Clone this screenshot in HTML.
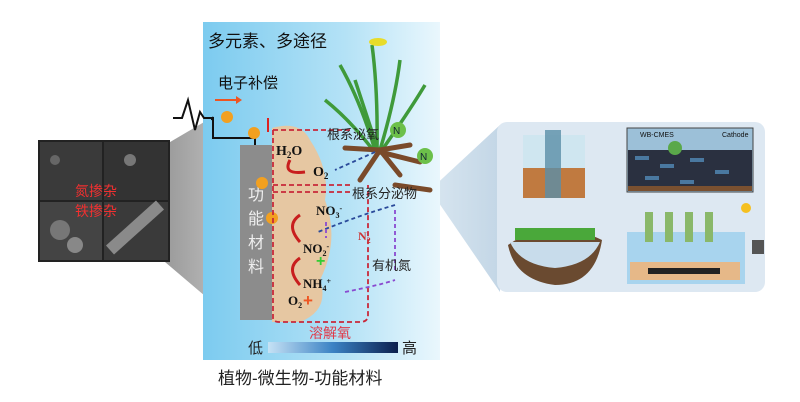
<!DOCTYPE html>
<html><head><meta charset="utf-8"><style>
html,body{margin:0;padding:0;background:#fff;}
svg{display:block;}
text{font-family:"Liberation Sans","Noto Sans CJK SC",sans-serif;}
.s{font-family:"Liberation Serif",serif;font-weight:bold;}
</style></head><body>
<svg width="800" height="402" viewBox="0 0 800 402" xmlns="http://www.w3.org/2000/svg">
<defs>
<linearGradient id="bg" x1="0" x2="1"><stop offset="0" stop-color="#7ccbef"/><stop offset="0.6" stop-color="#b4e2f6"/><stop offset="1" stop-color="#eaf7fd"/></linearGradient>
<linearGradient id="bar" x1="0" x2="1"><stop offset="0" stop-color="#c6e2f5"/><stop offset="0.5" stop-color="#3b82c4"/><stop offset="1" stop-color="#0b1f4d"/></linearGradient>
<linearGradient id="wedge" x1="0" x2="1"><stop offset="0" stop-color="#9a9a9a"/><stop offset="1" stop-color="#c8c8c8"/></linearGradient>
<linearGradient id="wedge2" x1="0" x2="1"><stop offset="0" stop-color="#d8e6f0"/><stop offset="1" stop-color="#c3d6e6"/></linearGradient>
</defs>
<polygon points="165,145 245,98 245,330 165,262" fill="url(#wedge)"/>
<polygon points="430,190 500,125 500,292" fill="url(#wedge2)"/>
<!-- SEM -->
<rect x="38" y="140" width="132" height="122" fill="#222"/>
<rect x="40" y="142" width="62" height="58" fill="#3a3a3a"/>
<rect x="104" y="142" width="64" height="58" fill="#333"/>
<rect x="40" y="202" width="62" height="58" fill="#444"/>
<rect x="104" y="202" width="64" height="58" fill="#3a3a3a"/>
<path d="M110 250 L160 205" stroke="#8a8a8a" stroke-width="12"/>
<circle cx="60" cy="230" r="10" fill="#777"/><circle cx="75" cy="245" r="8" fill="#888"/>
<circle cx="130" cy="160" r="6" fill="#777"/><circle cx="55" cy="160" r="5" fill="#666"/>
<text x="75" y="196" font-size="14" fill="#f03030">氮掺杂</text>
<text x="75" y="216" font-size="14" fill="#f03030">铁掺杂</text>
<rect x="203" y="22" width="237" height="338" fill="url(#bg)"/>
<g stroke="#3f9a3a" stroke-width="3.5" fill="none">
<path d="M375 150 Q360 100 340 65"/><path d="M377 150 Q378 90 372 45"/><path d="M380 150 Q395 100 400 60"/><path d="M382 150 Q410 110 425 85"/><path d="M373 150 Q350 120 325 100"/><path d="M378 150 Q365 110 355 80"/>
</g>
<ellipse cx="378" cy="42" rx="9" ry="4" fill="#e8dc2a"/>
<g stroke="#7a4a2a" stroke-width="5" stroke-linecap="round">
<path d="M380 150 L345 148"/><path d="M380 150 L410 145"/><path d="M380 150 L400 175"/><path d="M380 150 L360 180"/><path d="M380 152 L420 162"/><path d="M395 185 L430 190"/>
</g>
<circle cx="398" cy="130" r="8" fill="#6cc04a"/><text x="393" y="134" font-size="10" fill="#123">N</text>
<circle cx="425" cy="156" r="8" fill="#6cc04a"/><text x="420" y="160" font-size="10" fill="#123">N</text>
<path d="M272 128 Q300 120 310 140 Q330 170 325 200 Q340 240 320 280 Q330 310 300 322 L272 322 Z" fill="#e6c7a2"/>
<rect x="240" y="145" width="32" height="175" fill="#8c8c8c"/>
<text x="248" y="200" font-size="16" fill="#eee">功</text>
<text x="248" y="224" font-size="16" fill="#eee">能</text>
<text x="248" y="248" font-size="16" fill="#eee">材</text>
<text x="248" y="272" font-size="16" fill="#eee">料</text>
<polyline points="173,118 182,118 188,100 195,130 200,112 204,118 212,118 212,120 213,117 213,138 255,138 255,145" fill="none" stroke="#111" stroke-width="2"/>
<path d="M215 100 L236 100" stroke="#e52" stroke-width="2"/><path d="M236 96 L242 100 L236 104 Z" fill="#e52"/>
<circle cx="227" cy="117" r="6" fill="#f2a020"/><circle cx="254" cy="133" r="6" fill="#f2a020"/>
<circle cx="262" cy="183" r="6" fill="#f2a020"/><circle cx="272" cy="218" r="6" fill="#f2a020"/>
<path d="M268 118 L268 132" stroke="#d22" stroke-width="2"/>
<g fill="none" stroke="#c8283a" stroke-width="1.8" stroke-dasharray="5,3">
<path d="M273 130 L273 318 Q273 322 280 322 L360 322 Q368 322 368 315 L368 185"/>
<path d="M273 130 L350 130"/>
<path d="M273 185 L350 185 M273 192 L350 192"/>
</g>
<text x="327" y="139" font-size="13" fill="#222">根系泌氧</text>
<text x="352" y="198" font-size="13" fill="#222">根系分泌物</text>
<text x="276" y="155" font-size="14" class="s" fill="#111">H<tspan font-size="9" dy="3">2</tspan><tspan dy="-3">O</tspan></text>
<text x="313" y="176" font-size="14" class="s" fill="#111">O<tspan font-size="9" dy="3">2</tspan></text>
<text x="316" y="215" font-size="13" class="s" fill="#111">NO<tspan font-size="8" dy="3">3</tspan><tspan font-size="8" dy="-7">-</tspan></text>
<text x="303" y="253" font-size="13" class="s" fill="#111">NO<tspan font-size="8" dy="3">2</tspan><tspan font-size="8" dy="-7">-</tspan></text>
<text x="303" y="288" font-size="13" class="s" fill="#111">NH<tspan font-size="8" dy="3">4</tspan><tspan font-size="8" dy="-7">+</tspan></text>
<text x="288" y="305" font-size="13" class="s" fill="#111">O<tspan font-size="8" dy="3">2</tspan></text>
<text x="358" y="240" font-size="12" class="s" fill="#c33">N<tspan font-size="8" dy="3">2</tspan></text>
<text x="316" y="266" font-size="16" fill="#3c3" font-weight="bold">+</text>
<text x="303" y="306" font-size="17" fill="#e52" font-weight="bold">+</text>
<g fill="none" stroke="#c81e1e" stroke-width="3">
<path d="M290 160 Q282 175 305 172"/><path d="M300 215 Q285 225 300 242"/><path d="M300 258 Q285 268 300 285"/>
</g>
<g fill="none" stroke="#2a4a9a" stroke-width="1.8" stroke-dasharray="4,3">
<path d="M395 205 Q360 215 318 232"/><path d="M375 152 L335 170"/>
</g>
<g fill="none" stroke="#8a4ad0" stroke-width="1.8" stroke-dasharray="4,3">
<path d="M345 292 Q380 285 395 280"/><path d="M395 270 L395 210"/><path d="M326 222 L326 238"/>
</g>
<text x="372" y="270" font-size="13" fill="#222">有机氮</text>
<text x="309" y="338" font-size="14" fill="#e03a4a">溶解氧</text>
<text x="248" y="353" font-size="15" fill="#222">低</text>
<rect x="268" y="342" width="130" height="11" fill="url(#bar)"/>
<text x="402" y="353" font-size="15" fill="#222">高</text>
<text x="208" y="47" font-size="17" fill="#111">多元素、多途径</text>
<text x="218" y="88" font-size="15" fill="#111">电子补偿</text>
<text x="218" y="384" font-size="17" fill="#222">植物-微生物-功能材料</text>
<!-- right panel -->
<rect x="497" y="122" width="268" height="170" rx="10" fill="#dde8f2"/>
<rect x="523" y="135" width="62" height="60" fill="#cfe6f0"/>
<rect x="523" y="168" width="62" height="30" fill="#c07a40"/>
<rect x="545" y="130" width="16" height="68" fill="#5a8fa8" opacity="0.8"/>
<rect x="627" y="128" width="126" height="64" fill="#9cc0d8" stroke="#444"/>
<rect x="628" y="150" width="124" height="38" fill="#2a3040"/>
<g fill="#4a78a0"><rect x="635" y="156" width="14" height="4"/><rect x="660" y="164" width="14" height="4"/><rect x="690" y="158" width="14" height="4"/><rect x="715" y="170" width="14" height="4"/><rect x="645" y="176" width="14" height="4"/><rect x="680" y="180" width="14" height="4"/></g>
<rect x="628" y="186" width="124" height="5" fill="#7a5030"/>
<circle cx="675" cy="148" r="7" fill="#5aa84a"/>
<text x="640" y="137" font-size="7" fill="#111">WB-CMES</text>
<text x="722" y="137" font-size="7" fill="#111">Cathode</text>
<circle cx="746" cy="208" r="5" fill="#f5c020"/>
<path d="M508 245 Q550 215 602 240 Q595 285 555 285 Q515 280 508 245 Z" fill="#6a4a30"/>
<path d="M510 242 L600 242 Q590 265 555 268 Q520 265 510 242 Z" fill="#c8dceb"/>
<rect x="515" y="228" width="80" height="12" fill="#4aa83a"/>
<rect x="627" y="232" width="118" height="52" fill="#a8d4ee"/>
<rect x="630" y="262" width="110" height="18" fill="#e6b888"/>
<rect x="648" y="268" width="72" height="6" fill="#222"/>
<g fill="#8ab86a"><rect x="645" y="212" width="8" height="30"/><rect x="665" y="212" width="8" height="30"/><rect x="685" y="212" width="8" height="30"/><rect x="705" y="212" width="8" height="30"/></g>
<rect x="752" y="240" width="12" height="14" fill="#555"/>
</svg>
</body></html>
